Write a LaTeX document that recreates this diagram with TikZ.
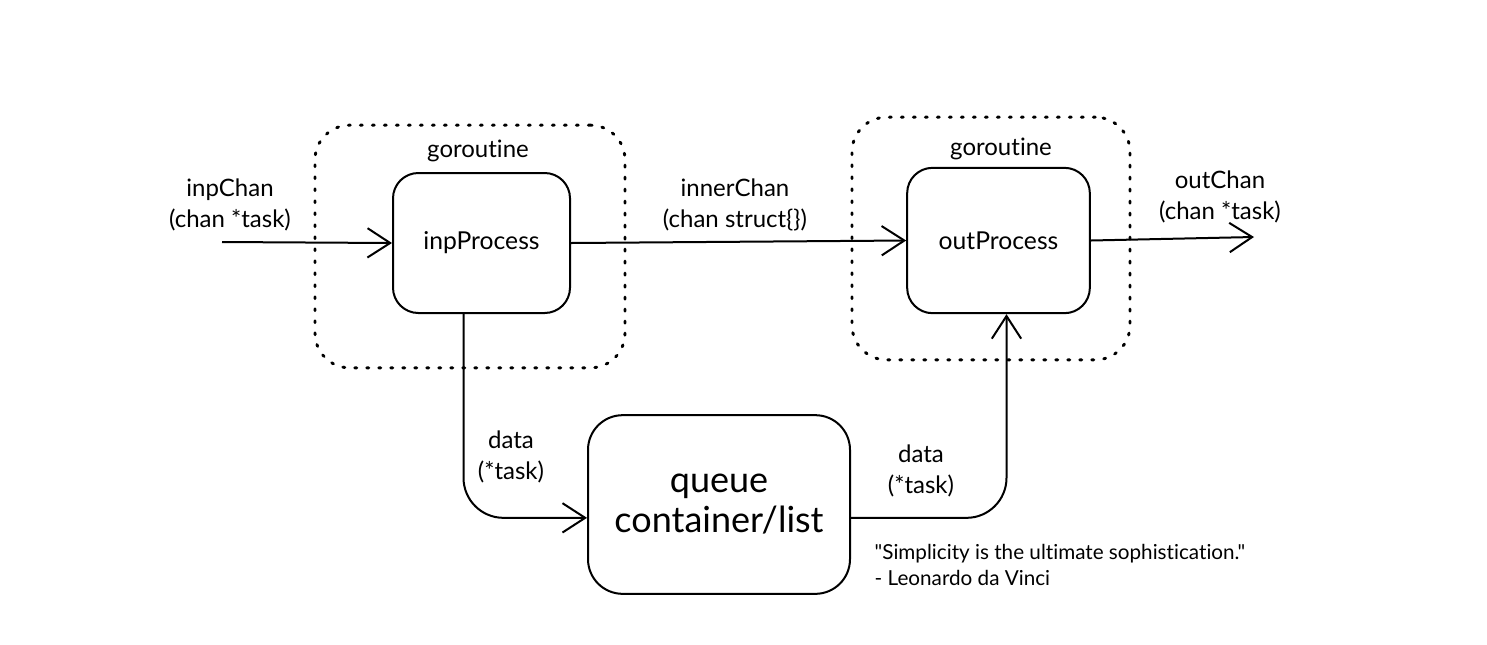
\documentclass[tikz,border=0pt]{standalone}
\usepackage{fontspec}
\setmainfont{Lato}[Ligatures={TeXOff,CommonOff}]
\usetikzlibrary{arrows.meta}
\begin{document}
\begin{tikzpicture}[x=0.75pt,y=-0.75pt,
  proc/.style={draw, line width=1.5pt, rounded corners=19pt, font=\fontsize{18.5}{22}\selectfont},
  grp/.style={draw, line width=2.2pt, line cap=round, dash pattern=on 1.5pt off 7.5pt, rounded corners=26pt},
  lbl/.style={font=\fontsize{18}{23}\selectfont, align=center},
  conn/.style={line width=1.5pt, -{Straight Barb[length=17pt,width=22pt,line width=1.5pt]}},
]
\useasboundingbox (0,0) rectangle (1487,644);
% groups
\node[grp, minimum width=232.5pt, minimum height=182pt] (g1) at (470,246.5) {};
\node[grp, minimum width=208.5pt, minimum height=182pt] (g2) at (991,238.5) {};
\node[lbl] (g1l) at (478,151) {goroutine};
\node[lbl] (g2l) at (1001,149) {goroutine};
% processes
\node[proc, minimum width=132.75pt, minimum height=105pt] (inp) at (481.5,243) {\raisebox{-2pt}{inpProcess}};
\node[proc, minimum width=137pt, minimum height=109pt] (outp) at (998.5,240.5) {\raisebox{-2pt}{outProcess}};
\node[draw, line width=1.5pt, rounded corners=26pt, minimum width=196.5pt, minimum height=134pt, align=center, font=\fontsize{27}{30}\selectfont] (queue) at (719,504.5) {\raisebox{-4pt}{\begin{tabular}{@{}c@{}}queue\\container/list\end{tabular}}};
% labels
\node[lbl] (l1) at (230,205) {inpChan\\(chan *task)};
\node[lbl] (l2) at (735,205) {innerChan\\(chan struct\{\})};
\node[lbl] (l3) at (1220,197) {outChan\\(chan *task)};
\node[lbl] (l4) at (511,457) {data\\(*task)};
\node[lbl] (l5) at (921,471) {data\\(*task)};
\node[font=\fontsize{15.5}{19}\selectfont, align=left, anchor=north west] (quote) at (870,540) {"Simplicity is the ultimate sophistication."\\- Leonardo da Vinci};
% connectors
\coordinate (inStart) at (222,242);
\coordinate (outEnd) at (1254,237);
\draw[conn] (inStart) -- (inp.west);
\draw[conn] (inp.east) -- (outp.west);
\draw[conn] (outp.east) -- (outEnd);
\draw[conn, rounded corners=30pt] ([xshift=-13.5pt]inp.south) |- ([yshift=-10pt]queue.west);
\draw[conn, rounded corners=30pt] ([yshift=-10pt]queue.east) -| ([xshift=6pt]outp.south);
\end{tikzpicture}
\end{document}
